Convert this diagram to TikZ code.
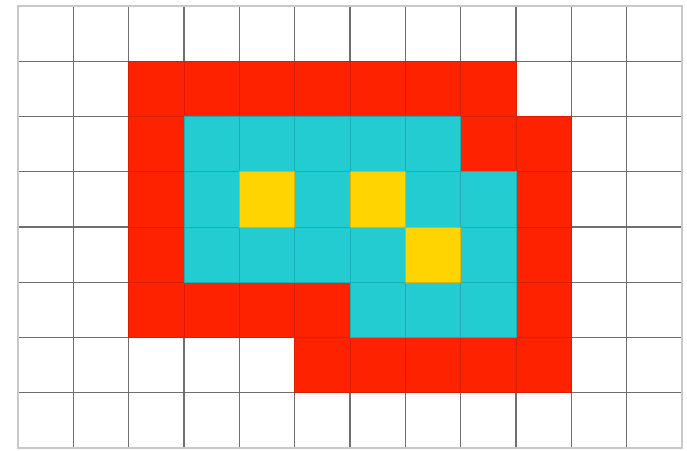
\documentclass[tikz,border=0pt]{standalone}
\definecolor{cellred}{RGB}{255,34,0}
\definecolor{cellcyan}{RGB}{34,204,208}
\definecolor{cellyellow}{RGB}{255,212,0}
\definecolor{gridline}{RGB}{110,110,110}
\definecolor{frameline}{RGB}{200,200,200}
\tikzset{
  cellfill/.style={fill=#1, draw=#1!85!black, line width=0.6pt},
  gridstyle/.style={draw=gridline, line width=1.4pt},
  framestyle/.style={draw=frameline, line width=2.5pt}
}
\newcommand{\cw}{55.33}
\newcommand{\ch}{55.25}
\newcommand{\gx}{18}
\newcommand{\gy}{6}
\newcommand{\cell}[3]{\path[cellfill=#3] ({\gx+#1*\cw},{\gy+#2*\ch}) rectangle ({\gx+(#1+1)*\cw},{\gy+(#2+1)*\ch});}
\begin{document}
\begin{tikzpicture}[x=1pt,y=-1pt]
\useasboundingbox (0,0) rectangle (687,450);
\fill[white] (0,0) rectangle (687,450);
% grid
\foreach \i in {1,...,11} \draw[gridstyle] ({\gx+\i*\cw},\gy) -- ({\gx+\i*\cw},{\gy+8*\ch});
\foreach \j in {1,...,7} \draw[gridstyle] (\gx,{\gy+\j*\ch}) -- ({\gx+12*\cw},{\gy+\j*\ch});
% red cells
\foreach \c/\r in {2/1,3/1,4/1,5/1,6/1,7/1,8/1,
  2/2,8/2,9/2, 2/3,9/3, 2/4,9/4,
  2/5,3/5,4/5,5/5,9/5,
  5/6,6/6,7/6,8/6,9/6} {\cell{\c}{\r}{cellred}}
% cyan cells
\foreach \c/\r in {3/2,4/2,5/2,6/2,7/2,
  3/3,5/3,7/3,8/3,
  3/4,4/4,5/4,6/4,8/4,
  6/5,7/5,8/5} {\cell{\c}{\r}{cellcyan}}
% yellow cells
\foreach \c/\r in {4/3,6/3,7/4} {\cell{\c}{\r}{cellyellow}}
% outer frame
\draw[framestyle] (\gx,\gy) rectangle ({\gx+12*\cw},{\gy+8*\ch});
\end{tikzpicture}
\end{document}
